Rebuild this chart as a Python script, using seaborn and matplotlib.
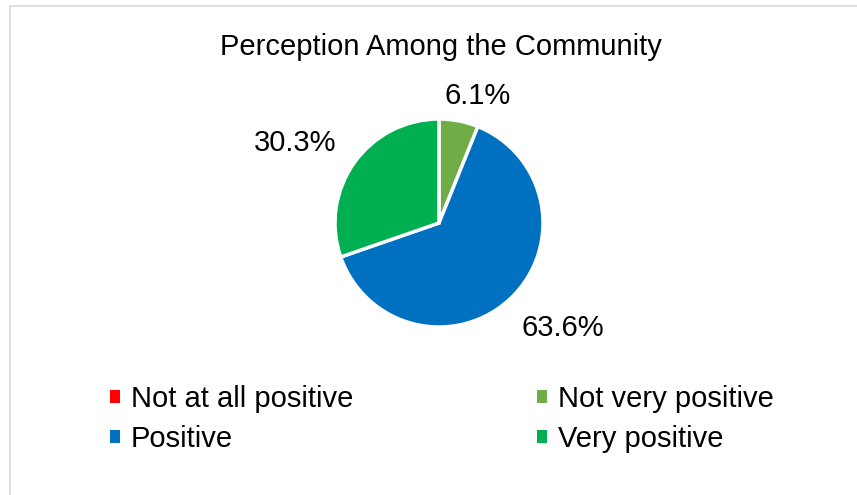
import matplotlib
matplotlib.use("Agg")
import matplotlib.pyplot as plt
from matplotlib.patches import Patch
import seaborn as sns
import numpy as np

sns.set_theme(style="white")
plt.rcParams['font.family'] = ['Liberation Sans', 'DejaVu Sans']

title = "Perception Among the Community"
categories = ["Not at all positive", "Not very positive", "Positive", "Very positive"]
values = [0.0, 6.1, 63.6, 30.3]
labels = ["", "6.1%", "63.6%", "30.3%"]
colors = ["#FF0000", "#70AD47", "#0070C0", "#00B050"]
# label placement (radial distance, angular offset deg)
label_dist = [1.3, 1.28, 1.56, 1.58]
label_off = [0, -6, 6, 6.5]

W, H = 857, 495
FS = 21
fig = plt.figure(figsize=(W / 100, H / 100), dpi=100)
fig.patch.set_facecolor("white")

cx, cy, R = 439, 223, 104
ax = fig.add_axes([(cx - R) / W, (H - cy - R) / H, 2 * R / W, 2 * R / H])

wedges, _ = ax.pie(values, colors=colors, startangle=90, counterclock=False,
                   radius=1, wedgeprops=dict(edgecolor="white", linewidth=2.5))
ax.set_xlim(-1, 1)
ax.set_ylim(-1, 1)
ax.axis("off")

for w, lab, d, off in zip(wedges, labels, label_dist, label_off):
    if not lab:
        continue
    ang = np.deg2rad((w.theta1 + w.theta2) / 2 + off)
    ax.text(d * np.cos(ang), d * np.sin(ang), lab, ha="center", va="center",
            fontsize=FS, color="#000000")

fig.text(441 / W, 1 - 47 / H, title, ha="center", va="center", fontsize=FS, color="#000000")

# legend is filled row by row in the reference
order = [0, 2, 1, 3]
handles = [Patch(facecolor=colors[i], edgecolor="none") for i in order]
fig.legend(handles, [categories[i] for i in order], ncol=2,
           loc="center left", bbox_to_anchor=(110 / W, 1 - 419 / H), frameon=False,
           fontsize=FS, labelcolor="#000000",
           handlelength=0.34, handleheight=0.34, handletextpad=0.38,
           columnspacing=6.3, labelspacing=0.42, borderaxespad=0, borderpad=0)

# chart frame (partially cropped)
fig.add_artist(plt.Line2D([9.5 / W, 9.5 / W], [0, 1 - 6 / H], transform=fig.transFigure,
                          color="#D9D9D9", linewidth=1.2))
fig.add_artist(plt.Line2D([9.5 / W, 1], [1 - 6 / H, 1 - 6 / H], transform=fig.transFigure,
                          color="#D9D9D9", linewidth=1.2))

fig.savefig("out.png", dpi=100)
